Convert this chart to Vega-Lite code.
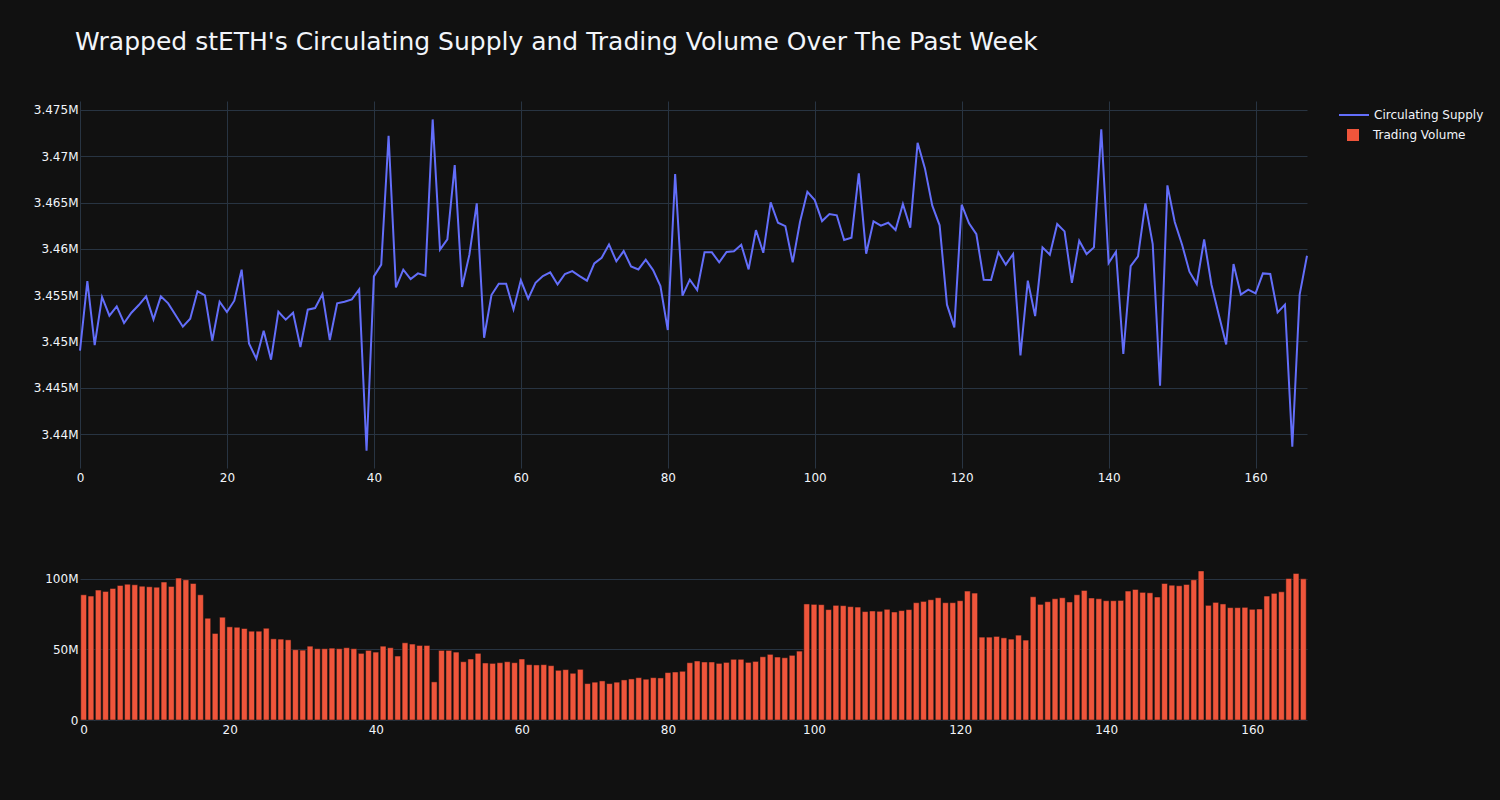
{
  "$schema": "https://vega.github.io/schema/vega-lite/v6.json",
  "background": "#111111",
  "padding": {"left": 33, "top": 30, "right": 18, "bottom": 66},
  "title": {
    "text": "Wrapped stETH's Circulating Supply and Trading Volume Over The Past Week",
    "anchor": "start",
    "frame": "group",
    "dx": -5,
    "font": "DejaVu Sans",
    "fontSize": 25,
    "fontWeight": "normal",
    "color": "#f2f5fa",
    "offset": 44
  },
  "config": {
    "view": {"stroke": null},
    "font": "DejaVu Sans",
    "axis": {
      "labelFont": "DejaVu Sans",
      "labelFontSize": 12,
      "labelColor": "#f2f5fa",
      "gridColor": "#283442",
      "gridWidth": 1,
      "gridOpacity": 1,
      "domain": false,
      "ticks": false,
      "labelFlush": false,
      "title": null
    },
    "legend": {
      "labelFont": "DejaVu Sans",
      "labelFontSize": 12,
      "labelColor": "#f2f5fa",
      "padding": 0,
      "title": null
    }
  },
  "data": {
    "values": [
      {"i":0,"supply":3449000,"volume":88700000},
      {"i":1,"supply":3456520,"volume":87800000},
      {"i":2,"supply":3449610,"volume":92000000},
      {"i":3,"supply":3454800,"volume":91100000},
      {"i":4,"supply":3452780,"volume":93200000},
      {"i":5,"supply":3453790,"volume":95300000},
      {"i":6,"supply":3451990,"volume":96200000},
      {"i":7,"supply":3453100,"volume":95800000},
      {"i":8,"supply":3453930,"volume":94800000},
      {"i":9,"supply":3454870,"volume":94400000},
      {"i":10,"supply":3452380,"volume":94100000},
      {"i":11,"supply":3454870,"volume":97700000},
      {"i":12,"supply":3454110,"volume":94600000},
      {"i":13,"supply":3452850,"volume":100500000},
      {"i":14,"supply":3451590,"volume":99300000},
      {"i":15,"supply":3452460,"volume":96700000},
      {"i":16,"supply":3455410,"volume":88700000},
      {"i":17,"supply":3454980,"volume":72100000},
      {"i":18,"supply":3450080,"volume":61300000},
      {"i":19,"supply":3454290,"volume":72800000},
      {"i":20,"supply":3453180,"volume":66000000},
      {"i":21,"supply":3454400,"volume":65700000},
      {"i":22,"supply":3457750,"volume":64800000},
      {"i":23,"supply":3449790,"volume":62900000},
      {"i":24,"supply":3448140,"volume":62900000},
      {"i":25,"supply":3451160,"volume":65000000},
      {"i":26,"supply":3448030,"volume":57500000},
      {"i":27,"supply":3453210,"volume":57300000},
      {"i":28,"supply":3452350,"volume":56800000},
      {"i":29,"supply":3453100,"volume":49800000},
      {"i":30,"supply":3449400,"volume":49500000},
      {"i":31,"supply":3453430,"volume":52300000},
      {"i":32,"supply":3453610,"volume":50500000},
      {"i":33,"supply":3455120,"volume":50500000},
      {"i":34,"supply":3450150,"volume":50900000},
      {"i":35,"supply":3454110,"volume":50500000},
      {"i":36,"supply":3454290,"volume":51200000},
      {"i":37,"supply":3454540,"volume":50500000},
      {"i":38,"supply":3455620,"volume":47200000},
      {"i":39,"supply":3438200,"volume":49300000},
      {"i":40,"supply":3457030,"volume":48100000},
      {"i":41,"supply":3458300,"volume":52300000},
      {"i":42,"supply":3472220,"volume":51200000},
      {"i":43,"supply":3455840,"volume":45300000},
      {"i":44,"supply":3457750,"volume":54700000},
      {"i":45,"supply":3456740,"volume":53800000},
      {"i":46,"supply":3457350,"volume":52800000},
      {"i":47,"supply":3457100,"volume":52800000},
      {"i":48,"supply":3473980,"volume":27000000},
      {"i":49,"supply":3459910,"volume":49300000},
      {"i":50,"supply":3461020,"volume":49300000},
      {"i":51,"supply":3469050,"volume":48100000},
      {"i":52,"supply":3455880,"volume":41300000},
      {"i":53,"supply":3459370,"volume":43200000},
      {"i":54,"supply":3464910,"volume":47200000},
      {"i":55,"supply":3450400,"volume":40400000},
      {"i":56,"supply":3455010,"volume":40100000},
      {"i":57,"supply":3456240,"volume":40600000},
      {"i":58,"supply":3456240,"volume":41300000},
      {"i":59,"supply":3453460,"volume":40600000},
      {"i":60,"supply":3456600,"volume":43200000},
      {"i":61,"supply":3454620,"volume":39200000},
      {"i":62,"supply":3456340,"volume":39000000},
      {"i":63,"supply":3457060,"volume":39200000},
      {"i":64,"supply":3457460,"volume":38500000},
      {"i":65,"supply":3456160,"volume":35200000},
      {"i":66,"supply":3457280,"volume":35700000},
      {"i":67,"supply":3457600,"volume":33100000},
      {"i":68,"supply":3457060,"volume":35900000},
      {"i":69,"supply":3456560,"volume":25800000},
      {"i":70,"supply":3458430,"volume":26800000},
      {"i":71,"supply":3459040,"volume":27700000},
      {"i":72,"supply":3460480,"volume":25800000},
      {"i":73,"supply":3458650,"volume":26800000},
      {"i":74,"supply":3459760,"volume":28400000},
      {"i":75,"supply":3458110,"volume":29100000},
      {"i":76,"supply":3457780,"volume":30000000},
      {"i":77,"supply":3458830,"volume":28900000},
      {"i":78,"supply":3457710,"volume":30000000},
      {"i":79,"supply":3455980,"volume":29800000},
      {"i":80,"supply":3451230,"volume":33600000},
      {"i":81,"supply":3468080,"volume":34000000},
      {"i":82,"supply":3454940,"volume":34500000},
      {"i":83,"supply":3456670,"volume":40600000},
      {"i":84,"supply":3455550,"volume":41800000},
      {"i":85,"supply":3459620,"volume":41100000},
      {"i":86,"supply":3459620,"volume":41100000},
      {"i":87,"supply":3458540,"volume":40100000},
      {"i":88,"supply":3459660,"volume":40800000},
      {"i":89,"supply":3459730,"volume":43000000},
      {"i":90,"supply":3460450,"volume":43000000},
      {"i":91,"supply":3457780,"volume":40800000},
      {"i":92,"supply":3462030,"volume":41500000},
      {"i":93,"supply":3459580,"volume":44800000},
      {"i":94,"supply":3465020,"volume":46500000},
      {"i":95,"supply":3462820,"volume":44600000},
      {"i":96,"supply":3462460,"volume":44100000},
      {"i":97,"supply":3458540,"volume":45800000},
      {"i":98,"supply":3462930,"volume":48800000},
      {"i":99,"supply":3466170,"volume":82200000},
      {"i":100,"supply":3465270,"volume":81900000},
      {"i":101,"supply":3463000,"volume":81700000},
      {"i":102,"supply":3463760,"volume":78200000},
      {"i":103,"supply":3463620,"volume":81200000},
      {"i":104,"supply":3460950,"volume":81000000},
      {"i":105,"supply":3461200,"volume":80300000},
      {"i":106,"supply":3468150,"volume":80000000},
      {"i":107,"supply":3459480,"volume":76800000},
      {"i":108,"supply":3462970,"volume":77200000},
      {"i":109,"supply":3462500,"volume":77000000},
      {"i":110,"supply":3462820,"volume":78400000},
      {"i":111,"supply":3462030,"volume":76500000},
      {"i":112,"supply":3464840,"volume":77500000},
      {"i":113,"supply":3462280,"volume":78200000},
      {"i":114,"supply":3471460,"volume":83100000},
      {"i":115,"supply":3468690,"volume":84000000},
      {"i":116,"supply":3464660,"volume":85200000},
      {"i":117,"supply":3462540,"volume":86600000},
      {"i":118,"supply":3453970,"volume":83100000},
      {"i":119,"supply":3451520,"volume":83100000},
      {"i":120,"supply":3464770,"volume":84500000},
      {"i":121,"supply":3462750,"volume":91300000},
      {"i":122,"supply":3461580,"volume":89900000},
      {"i":123,"supply":3456660,"volume":58700000},
      {"i":124,"supply":3456630,"volume":58700000},
      {"i":125,"supply":3459620,"volume":59200000},
      {"i":126,"supply":3458290,"volume":58200000},
      {"i":127,"supply":3459440,"volume":57300000},
      {"i":128,"supply":3448500,"volume":60100000},
      {"i":129,"supply":3456560,"volume":56600000},
      {"i":130,"supply":3452740,"volume":87300000},
      {"i":131,"supply":3460160,"volume":81900000},
      {"i":132,"supply":3459370,"volume":83800000},
      {"i":133,"supply":3462680,"volume":85900000},
      {"i":134,"supply":3461890,"volume":86600000},
      {"i":135,"supply":3456340,"volume":83600000},
      {"i":136,"supply":3460880,"volume":88700000},
      {"i":137,"supply":3459440,"volume":91800000},
      {"i":138,"supply":3460160,"volume":86400000},
      {"i":139,"supply":3472900,"volume":85900000},
      {"i":140,"supply":3458470,"volume":84500000},
      {"i":141,"supply":3459690,"volume":84500000},
      {"i":142,"supply":3448640,"volume":84700000},
      {"i":143,"supply":3458140,"volume":91300000},
      {"i":144,"supply":3459190,"volume":92500000},
      {"i":145,"supply":3464910,"volume":90400000},
      {"i":146,"supply":3460520,"volume":90100000},
      {"i":147,"supply":3445220,"volume":87100000},
      {"i":148,"supply":3466860,"volume":96700000},
      {"i":149,"supply":3462900,"volume":95500000},
      {"i":150,"supply":3460450,"volume":95100000},
      {"i":151,"supply":3457530,"volume":96000000},
      {"i":152,"supply":3456200,"volume":99300000},
      {"i":153,"supply":3461020,"volume":105600000},
      {"i":154,"supply":3456130,"volume":81200000},
      {"i":155,"supply":3452850,"volume":83300000},
      {"i":156,"supply":3449680,"volume":82200000},
      {"i":157,"supply":3458360,"volume":79600000},
      {"i":158,"supply":3455050,"volume":79600000},
      {"i":159,"supply":3455590,"volume":79800000},
      {"i":160,"supply":3455190,"volume":78400000},
      {"i":161,"supply":3457350,"volume":78600000},
      {"i":162,"supply":3457280,"volume":87800000},
      {"i":163,"supply":3453140,"volume":89700000},
      {"i":164,"supply":3453970,"volume":90800000},
      {"i":165,"supply":3438630,"volume":100200000},
      {"i":166,"supply":3455050,"volume":103800000},
      {"i":167,"supply":3459260,"volume":100000000}
    ]
  },
  "bounds": "flush",
  "spacing": 95,
  "resolve": {"scale": {"color": "independent"}, "legend": {"color": "independent"}},
  "vconcat": [
    {
      "width": 1227,
      "height": 367,
      "mark": {"type": "line", "strokeWidth": 2, "interpolate": "linear"},
      "encoding": {
        "x": {
          "field": "i",
          "type": "quantitative",
          "scale": {"domain": [0, 167], "nice": false, "zero": false},
          "axis": {"values": [0, 20, 40, 60, 80, 100, 120, 140, 160], "labelPadding": 4, "grid": true}
        },
        "y": {
          "field": "supply",
          "type": "quantitative",
          "scale": {"domain": [3436330, 3475970], "nice": false, "zero": false},
          "axis": {
            "values": [3440000, 3445000, 3450000, 3455000, 3460000, 3465000, 3470000, 3475000],
            "format": ".4~s",
            "labelPadding": 2,
            "grid": true
          }
        },
        "color": {
          "datum": "Circulating Supply",
          "scale": {"domain": ["Circulating Supply"], "range": ["#636efa"]},
          "legend": {
            "orient": "none",
            "legendX": 1258,
            "legendY": -2,
            "symbolType": "stroke",
            "symbolSize": 900,
            "symbolStrokeWidth": 2,
            "labelOffset": 4
          }
        }
      }
    },
    {
      "width": 1227,
      "height": 157,
      "mark": {"type": "bar", "size": 5.8, "stroke": "#111111", "strokeWidth": 0.5},
      "encoding": {
        "x": {
          "field": "i",
          "type": "quantitative",
          "scale": {"domain": [-0.5, 167.5], "nice": false, "zero": false, "padding": 0},
          "axis": {"values": [0, 20, 40, 60, 80, 100, 120, 140, 160], "labelPadding": 4, "grid": false}
        },
        "y": {
          "field": "volume",
          "type": "quantitative",
          "scale": {"domain": [0, 111200000], "nice": false},
          "axis": {
            "values": [0, 50000000, 100000000],
            "labelExpr": "datum.value === 0 ? '0' : format(datum.value, '~s')",
            "labelPadding": 2,
            "grid": true
          }
        },
        "color": {
          "datum": "Trading Volume",
          "scale": {"domain": ["Trading Volume"], "range": ["#ef553b"]},
          "legend": {
            "orient": "none",
            "legendX": 1267,
            "legendY": -434,
            "symbolType": "square",
            "symbolSize": 144,
            "symbolStrokeWidth": 0,
            "labelOffset": 14
          }
        }
      }
    }
  ]
}
